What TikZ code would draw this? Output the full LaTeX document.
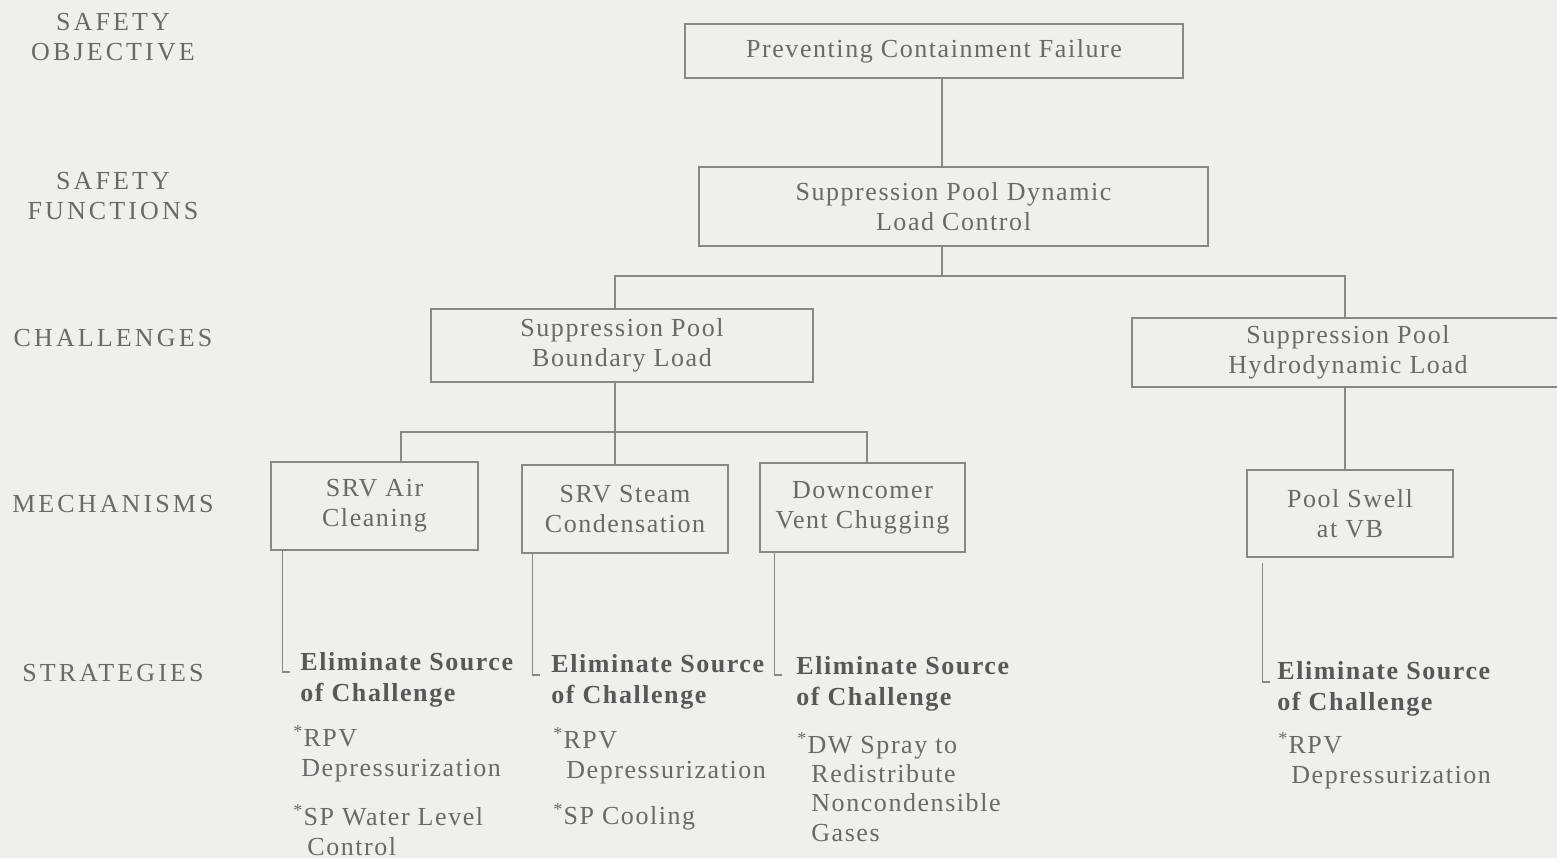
\documentclass[tikz,border=0pt]{standalone}
\usepackage{fontspec}
\setmainfont{Liberation Serif}[LetterSpace=6]
\newfontfamily\levelfont{Liberation Serif}[LetterSpace=12]
\definecolor{paper}{RGB}{239,239,237}
\definecolor{inkgray}{RGB}{105,105,105}
\definecolor{boldgray}{RGB}{88,88,88}
\definecolor{linegray}{RGB}{135,135,135}
\begin{document}
\begin{tikzpicture}[x=0.5pt,y=-0.5pt,
  every node/.style={text=inkgray, font=\fontsize{13pt}{15pt}\selectfont},
  box/.style={draw=linegray, line width=0.7pt, align=center, inner sep=0pt},
  link/.style={draw=linegray, line width=0.7pt},
  level/.style={font=\levelfont\fontsize{13pt}{15pt}\selectfont, align=center},
  head/.style={anchor=west, align=left, inner sep=0pt, text=boldgray,
    font=\bfseries\fontsize{13pt}{15.5pt}\selectfont},
  item/.style={anchor=west, align=left, inner sep=0pt,
    font=\fontsize{13pt}{15pt}\selectfont}]
\useasboundingbox (0,0) rectangle (1557,858);
\clip (0,0) rectangle (1557,858);
\fill[paper] (0,0) rectangle (1557,858);

% level captions
\node[level] (lObj) at (113,37.5) {SAFETY\\OBJECTIVE};
\node[level] (lFun) at (113,196) {SAFETY\\FUNCTIONS};
\node[level] (lCha) at (113,338) {CHALLENGES};
\node[level] (lMec) at (113,504) {MECHANISMS};
\node[level] (lStr) at (113,673) {STRATEGIES};

% tree boxes
\node[box, minimum width=249pt, minimum height=27pt] (obj) at (934,51) {Preventing Containment Failure};
\node[box, minimum width=254.5pt, minimum height=39.5pt] (fun) at (953.5,206.5) {Suppression Pool Dynamic\\Load Control};
\node[box, minimum width=191pt, minimum height=36.5pt] (chB) at (622,345.5) {Suppression Pool\\Boundary Load};
\node[box, minimum width=216pt, minimum height=34.5pt] (chH) at (1348,352.5) {Suppression Pool\\Hydrodynamic Load};
\node[box, minimum width=103.5pt, minimum height=44pt] (mAir) at (374.5,506) {SRV Air\\Cleaning};
\node[box, minimum width=103pt, minimum height=44pt] (mSteam) at (625,509) {SRV Steam\\Condensation};
\node[box, minimum width=102.5pt, minimum height=44.5pt] (mVent) at (862.5,507.5) {Downcomer\\Vent Chugging};
\node[box, minimum width=103pt, minimum height=43.5pt] (mSwell) at (1350,513.5) {Pool Swell\\at VB};

% connectors
\coordinate (busA) at (942,276);
\coordinate (busAL) at (615,276);
\coordinate (busAR) at (1345,276);
\draw[link] (obj.south -| busA) -- (fun.north -| busA);
\draw[link] (fun.south -| busA) -- (busA);
\draw[link] (chB.north -| busAL) -- (busAL) -- (busAR) -- (chH.north -| busAR);
\coordinate (busB) at (615,432);
\coordinate (busBL) at (401,432);
\coordinate (busBR) at (867,432);
\draw[link] (chB.south -| busB) -- (mSteam.north -| busB);
\draw[link] (mAir.north -| busBL) -- (busBL) -- (busBR) -- (mVent.north -| busBR);
\draw[link] (chH.south -| busAR) -- (mSwell.north -| busAR);

% strategies
\node[head] (sAirH) at (300,679.5) {Eliminate Source\\of Challenge};
\node[item] (sAir1) at (293,753.5) {\textsuperscript{*}RPV\\\hspace*{4pt}Depressurization};
\node[item] (sAir2) at (293,830) {\textsuperscript{*}SP Water Level\\\hspace*{7pt}Control};

\node[head] (sSteamH) at (551,681.5) {Eliminate Source\\of Challenge};
\node[item] (sSteam1) at (553,755.5) {\textsuperscript{*}RPV\\\hspace*{6.5pt}Depressurization};
\node[item] (sSteam2) at (553,817) {\textsuperscript{*}SP Cooling};

\node[head] (sVentH) at (796,683.5) {Eliminate Source\\of Challenge};
\node[item, font=\fontsize{13pt}{14.7pt}\selectfont] (sVent1) at (797,787) {\textsuperscript{*}DW Spray to\\\hspace*{7pt}Redistribute\\\hspace*{7pt}Noncondensible\\\hspace*{7pt}Gases};

\node[head] (sSwellH) at (1277,688.5) {Eliminate Source\\of Challenge};
\node[item] (sSwell1) at (1278,761) {\textsuperscript{*}RPV\\\hspace*{6.5pt}Depressurization};

% brackets from mechanisms down to strategies
\coordinate (kAir) at (290,672);
\coordinate (kSteam) at (540,675);
\coordinate (kVent) at (782,675);
\coordinate (kSwell) at (1270,682);
\draw[link] ([xshift=6pt]mAir.south west) |- (kAir);
\draw[link] ([xshift=5.5pt]mSteam.south west) |- (kSteam);
\draw[link] ([xshift=7.5pt]mVent.south west) |- (kVent);
\draw[link] ([xshift=8pt,yshift=-2.5pt]mSwell.south west) |- (kSwell);
\end{tikzpicture}
\end{document}
